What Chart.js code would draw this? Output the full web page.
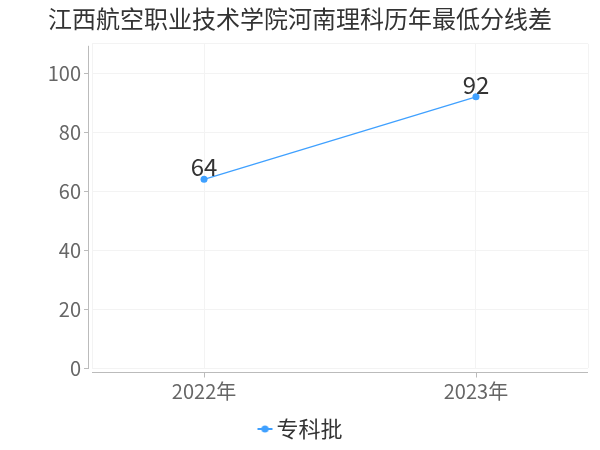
<!DOCTYPE html>
<html><head><meta charset="utf-8">
<script src="https://cdn.jsdelivr.net/npm/chart.js@4/dist/chart.umd.min.js"></script>
<style>html,body{margin:0;padding:0;background:#fff}#wrap{width:600px;height:450px}</style>
</head><body><div id="wrap"><canvas id="c"></canvas></div>
<script>
const titleText = '江西航空职业技术学院河南理科历年最低分线差';
const categories = ['2022年', '2023年'];
const seriesName = '专科批';
const seriesValues = [64, 92];
const yTicks = [0, 20, 40, 60, 80, 100];

const FONT = '"Noto Sans CJK SC", "Noto Sans", sans-serif';
const LINE = '#3fa0ff';

// legend marker: short line with a dot
const marker = document.createElement('canvas');
marker.width = 24; marker.height = 10;
(function () {
  const m = marker.getContext('2d');
  m.strokeStyle = LINE; m.lineWidth = 2;
  m.beginPath(); m.moveTo(8, 5); m.lineTo(23, 5); m.stroke();
  m.fillStyle = LINE;
  m.beginPath(); m.arc(15.5, 5, 3.6, 0, Math.PI * 2); m.fill();
})();

const axisPlugin = {
  id: 'axisPlugin',
  afterDraw(chart) {
    const ctx = chart.ctx, a = chart.chartArea;
    const ys = chart.scales.y, xs = chart.scales.x;
    ctx.save();
    ctx.strokeStyle = '#bbbbbb';
    ctx.lineWidth = 1;
    ctx.beginPath();
    ctx.moveTo(a.left - 3.5, a.top + 2);
    ctx.lineTo(a.left - 3.5, a.bottom + 1);
    ctx.stroke();
    yTicks.forEach(v => {
      const y = Math.round(ys.getPixelForValue(v)) + 0.5;
      ctx.beginPath(); ctx.moveTo(a.left - 8, y); ctx.lineTo(a.left - 3.5, y); ctx.stroke();
    });
    const yb = a.bottom + 4.5;
    ctx.beginPath(); ctx.moveTo(a.left, yb); ctx.lineTo(a.right, yb); ctx.stroke();
    categories.forEach((c, i) => {
      const x = Math.round(xs.getPixelForValue(i)) + 0.5;
      ctx.beginPath(); ctx.moveTo(x, yb); ctx.lineTo(x, yb + 5); ctx.stroke();
    });
    const meta = chart.getDatasetMeta(0);
    ctx.fillStyle = '#333333';
    ctx.font = '24px ' + FONT;
    ctx.textAlign = 'center';
    ctx.textBaseline = 'alphabetic';
    meta.data.forEach((pt, i) => {
      ctx.fillText(String(seriesValues[i]), pt.x, pt.y - 3);
    });
    ctx.restore();
  }
};

new Chart(document.getElementById('c'), {
  type: 'line',
  data: {
    datasets: [{
      label: seriesName,
      data: seriesValues.map((v, i) => ({x: i, y: v})),
      borderColor: LINE,
      backgroundColor: LINE,
      borderWidth: 1.2,
      pointRadius: 3.5,
      pointHoverRadius: 3.5,
      pointBorderWidth: 0,
      tension: 0
    }]
  },
  options: {
    responsive: true,
    maintainAspectRatio: false,
    animation: false,
    layout: { padding: { left: 12, right: 12, top: 0, bottom: 0 } },
    plugins: {
      title: {
        display: true, text: titleText, color: '#333333',
        font: { size: 24, family: FONT, weight: 'normal' },
        padding: { top: 4, bottom: 11 }
      },
      legend: {
        position: 'bottom',
        labels: {
          color: '#333333',
          font: { size: 22, family: FONT },
          usePointStyle: true,
          pointStyleWidth: 8,
          padding: 4,
          generateLabels(chart) {
            return [{
              text: seriesName, fillStyle: LINE, strokeStyle: LINE,
              lineWidth: 0, pointStyle: marker, datasetIndex: 0, fontColor: '#333333'
            }];
          }
        }
      },
      tooltip: { enabled: false }
    },
    scales: {
      x: {
        type: 'linear',
        min: -0.412, max: 1.412,
        afterBuildTicks(s) { s.ticks = [{value: -0.412}, {value: 0}, {value: 1}, {value: 1.412}]; },
        afterFit(s) { s.height = 46; },
        ticks: {
          color: '#666666', font: { size: 20, family: FONT }, padding: 11,
          autoSkip: false, maxRotation: 0,
          callback(v) { return Number.isInteger(v) ? categories[v] : ''; }
        },
        grid: { color: '#f3f3f3', drawTicks: false },
        border: { display: false }
      },
      y: {
        min: 0, max: 110,
        afterBuildTicks(s) { s.ticks = yTicks.map(v => ({value: v})).concat([{value: 110}]); },
        afterFit(s) { s.width = 80; },
        ticks: {
          color: '#666666', font: { size: 20, family: FONT }, padding: 11,
          callback(v) { return yTicks.includes(v) ? String(v) : ''; }
        },
        grid: { color: '#f3f3f3', drawTicks: false },
        border: { display: false }
      }
    }
  },
  plugins: [axisPlugin]
});
</script></body></html>
